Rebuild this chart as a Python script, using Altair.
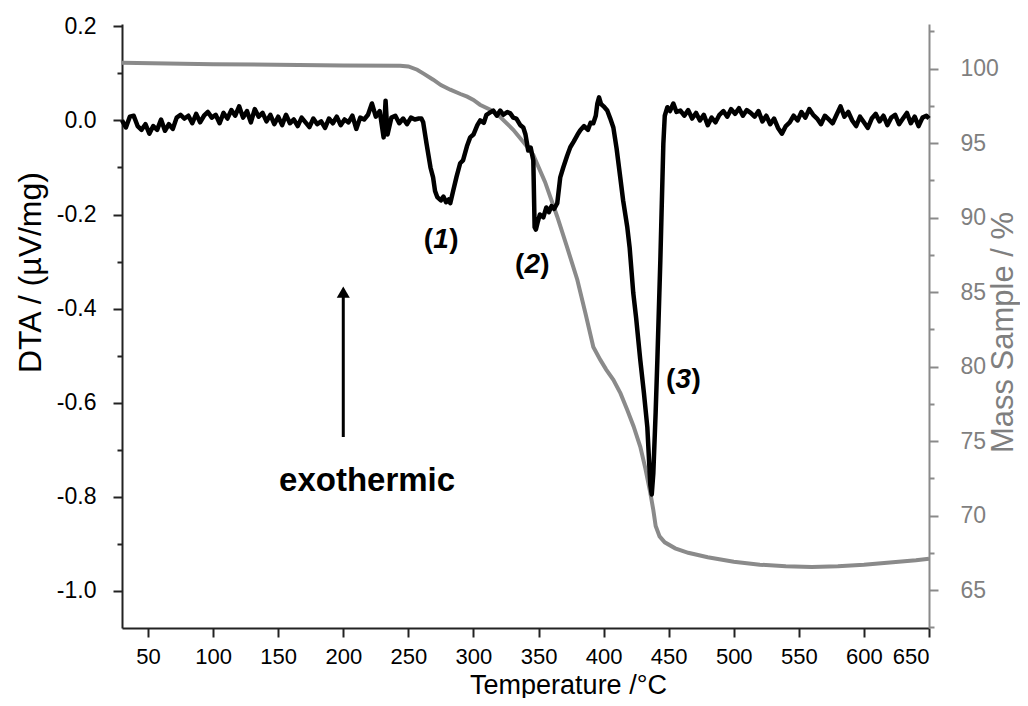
import altair as alt
import pandas as pd

# ---------------- data ----------------
dta_T = [30, 33, 36, 39, 42, 45, 48, 51, 54, 57, 60, 63, 66, 69, 72, 75, 78, 81, 84, 87,
         90, 93, 96, 99, 102, 105, 108, 111, 114, 117, 120, 123, 126, 129, 132, 135, 138,
         141, 144, 147, 150, 153, 156, 159, 162, 165, 168, 171, 174, 177, 180, 183, 186,
         189, 192, 195, 198, 201, 204, 207, 210, 213, 216, 219, 222, 225, 228, 231, 232.5,
         234, 237, 240, 243, 246, 249, 252, 255, 258,
         260, 261.4, 264, 267, 269, 270.5, 272.2, 275, 277, 279, 281, 282.2, 284.5, 287,
         289.8, 292, 295, 297.5, 300, 303, 305.2, 308, 310, 312.9, 315.2, 318, 320.6, 323,
         326, 328.3, 330.6, 333, 336, 338.3, 340, 342.1, 344, 346.0, 347.0, 348, 349.5, 351,
         353.7, 356, 358, 360, 362, 364.4, 366.7, 369, 372, 374.4, 377, 380, 382.1, 385,
         388, 390, 392.1, 394, 395.2, 396.5, 398, 400, 402.8, 405, 407.5, 410, 412.8, 415,
         418.2, 420, 422.8, 425, 428.2, 431, 433.6, 435.9, 437, 438.2, 440, 441.3, 443.6,
         445.9, 447, 449.0, 451, 453.6, 456, 459,
         462, 465, 468, 471, 474, 477, 480, 483, 486, 489, 492, 495, 498, 501, 504, 507,
         510, 513, 516, 519, 522, 525, 528, 531, 534, 537, 540, 543, 546, 549, 552, 555,
         558, 561, 564, 567, 570, 573, 576, 579, 582, 585, 588, 591, 594, 597, 600, 603,
         606, 609, 612, 615, 618, 621, 624, 627, 630, 633, 636, 639, 642, 645, 648, 650]
dta_v = [0.000, -0.015, 0.008, 0.010, -0.012, -0.020, -0.008, -0.028, -0.012, -0.020,
         0.002, -0.022, -0.008, -0.018, 0.006, 0.012, 0.004, 0.010, -0.006, 0.014,
         -0.004, 0.010, 0.018, 0.006, 0.012, -0.006, 0.016, 0.004, 0.022, 0.010,
         0.030, 0.006, 0.020, -0.004, 0.024, 0.008, 0.016, -0.002, 0.012, -0.008,
         0.008, -0.010, 0.012, -0.006, 0.002, -0.012, 0.006, -0.004, -0.014, 0.004,
         -0.008, -0.002, -0.016, 0.004, -0.006, 0.008, -0.010, 0.002, -0.004, 0.010,
         -0.018, 0.006, 0.002, 0.012, 0.036, 0.008, 0.020, -0.036, 0.042, -0.030,
         0.006, 0.010, -0.006, 0.004, -0.008, 0.006, 0.002, 0.004,
         0.004, -0.004, -0.050, -0.100, -0.121, -0.150, -0.163, -0.170, -0.162, -0.174,
         -0.168, -0.176, -0.149, -0.120, -0.091, -0.085, -0.055, -0.036, -0.030, -0.010,
         0.000, -0.005, 0.012, 0.017, 0.021, 0.010, 0.021, 0.012, 0.018, 0.015,
         0.006, 0.004, -0.010, -0.015, -0.030, -0.064, -0.058, -0.085, -0.227, -0.232,
         -0.215, -0.200, -0.206, -0.185, -0.195, -0.182, -0.188, -0.176, -0.121, -0.100,
         -0.075, -0.057, -0.045, -0.030, -0.021, -0.012, -0.020, -0.005, -0.006, 0.010,
         0.036, 0.049, 0.035, 0.030, 0.021, 0.005, -0.015, -0.060, -0.121, -0.170,
         -0.227, -0.270, -0.367, -0.420, -0.510, -0.580, -0.652, -0.775, -0.795, -0.750,
         -0.620, -0.510, -0.297, -0.050, 0.010, 0.028, 0.020, 0.036, 0.018, 0.021,
         0.010, 0.022, 0.004, 0.016, 0.000, 0.012, -0.010, 0.006, -0.004, 0.012,
         0.020, 0.008, 0.024, 0.014, 0.026, 0.010, 0.022, 0.016, 0.008, 0.020,
         -0.002, 0.010, -0.008, 0.004, -0.016, -0.028, -0.012, -0.004, 0.010, 0.000,
         0.018, 0.006, 0.024, 0.012, 0.004, -0.008, 0.010, 0.002, -0.006, 0.012,
         0.030, 0.008, 0.018, 0.000, -0.012, 0.008, -0.004, -0.016, 0.004, 0.014,
         -0.002, 0.010, -0.010, 0.006, 0.012, -0.008, 0.004, 0.016, -0.006, 0.008,
         -0.012, 0.006, 0.010, 0.004]

mass_T = [30, 100, 200, 243.7, 250, 256.8, 262, 269.1, 275, 282.2, 290, 295.2, 300, 305,
          312.9, 320, 330.6, 341.3, 346, 355, 364.4, 372, 379.8, 386, 392.1, 397.5, 402,
          407.5, 413, 418.2, 423, 428.2, 432, 435.9, 438.2, 440, 443, 447, 455, 465, 480,
          500, 520, 540, 560, 580, 600, 620, 640, 650]
mass_v = [100.4, 100.3, 100.22, 100.2, 100.15, 99.93, 99.65, 99.26, 98.9, 98.59, 98.3,
          98.12, 97.9, 97.58, 97.25, 96.8, 95.9, 94.76, 94.2, 92.4, 90.06, 88.0, 85.83,
          83.6, 81.32, 80.45, 79.8, 79.11, 78.2, 77.09, 76.0, 74.61, 73.2, 71.52, 70.37,
          69.3, 68.6, 68.2, 67.8, 67.5, 67.2, 66.9, 66.7, 66.6, 66.55, 66.6, 66.7, 66.85,
          67.0, 67.1]

peak_labels = ["1", "2", "3"]
peak_T = [275.2, 345.2, 461.3]
peak_v = [-0.255, -0.308, -0.552]

note_text = ["exothermic"]
note_T = [218.3]
note_v = [-0.766]

arrow_T = [200]
arrow_v0 = [-0.673]
arrow_v1 = [-0.365]

x_ticks = [50, 75, 100, 125, 150, 175, 200, 225, 250, 275, 300, 325, 350, 375, 400,
           425, 450, 475, 500, 525, 550, 575, 600, 625, 650]
dta_ticks = [-1.0, -0.9, -0.8, -0.7, -0.6, -0.5, -0.4, -0.3, -0.2, -0.1, 0.0, 0.1, 0.2]
mass_ticks = [62.5, 65, 67.5, 70, 72.5, 75, 77.5, 80, 82.5, 85, 87.5, 90, 92.5, 95,
              97.5, 100, 102.5]

# ---------------- styling ----------------
FONT = "Liberation Sans, Arial, sans-serif"
GRAY = "#8a8a8a"
GRAY_TXT = "#7f7f7f"
X_DOMAIN = [30, 650]
DTA_DOMAIN = [-1.079, 0.205]
MASS_DOMAIN = [62.45, 103.0]
PLOT_W, PLOT_H = 807, 604

dta_df = pd.DataFrame({"T": dta_T, "v": dta_v})
mass_df = pd.DataFrame({"T": mass_T, "m": mass_v})
peak_df = pd.DataFrame({"T": peak_T, "v": peak_v, "lab": peak_labels})
note_df = pd.DataFrame({"T": note_T, "v": note_v, "txt": note_text})
arrow_df = pd.DataFrame({"T": arrow_T, "v0": arrow_v0, "v1": arrow_v1})

x_axis = alt.Axis(
    values=x_ticks, title="Temperature /°C", grid=False,
    labelExpr="datum.value % 50 == 0 ? datum.label : ''",
    labelOverlap=False, labelFont=FONT, labelFontSize=22, labelColor="black",
    titleFont=FONT, titleFontSize=27, titleFontWeight="normal", titleColor="black",
    titleX=446, titleY=65, titleAlign="center", titleBaseline="alphabetic",
    domainColor="#222222", domainWidth=2, tickColor="#222222", tickWidth=2,
    tickSize={"condition": {"test": "datum.value % 50 == 0", "value": 9}, "value": 5},
    labelPadding=9,
)
xenc = alt.X("T:Q", scale=alt.Scale(domain=X_DOMAIN, nice=False, zero=False), axis=x_axis)

dta_axis = alt.Axis(
    values=dta_ticks, title="DTA / (µV/mg)", grid=False,
    labelExpr="abs(round(datum.value*10)) % 2 == 0 ? replace(format(datum.value, '.1f'), '−', '-') : ''",
    labelOverlap=False, labelFont=FONT, labelFontSize=23, labelColor="black",
    titleFont=FONT, titleFontSize=32, titleFontWeight="normal", titleColor="black",
    titleAngle=270, titleX=-82, titleY=248, titleAlign="center", titleBaseline="alphabetic",
    domainColor="#222222", domainWidth=2, tickColor="#222222", tickWidth=2,
    tickSize={"condition": {"test": "abs(round(datum.value*10)) % 2 == 0", "value": 9}, "value": 5},
    labelPadding=17,
)
dta_scale = alt.Scale(domain=DTA_DOMAIN, nice=False, zero=False)

dta_line = alt.Chart(dta_df).mark_line(color="black", strokeWidth=4.5, strokeJoin="round").encode(
    x=xenc, y=alt.Y("v:Q", scale=dta_scale, axis=dta_axis)
)

paren_l = alt.Chart(peak_df).mark_text(
    text="(", font=FONT, fontSize=28, fontWeight="bold", align="right", baseline="middle",
    dx=-8, color="black"
).encode(x=alt.X("T:Q"), y=alt.Y("v:Q"))
paren_r = alt.Chart(peak_df).mark_text(
    text=")", font=FONT, fontSize=28, fontWeight="bold", align="left", baseline="middle",
    dx=8, color="black"
).encode(x=alt.X("T:Q"), y=alt.Y("v:Q"))
digits = alt.Chart(peak_df).mark_text(
    font=FONT, fontSize=28, fontWeight="bold", fontStyle="italic", align="center",
    baseline="middle", color="black"
).encode(x=alt.X("T:Q"), y=alt.Y("v:Q"), text="lab:N")

note = alt.Chart(note_df).mark_text(
    font=FONT, fontSize=33, fontWeight="bold", align="center", baseline="middle",
    color="black"
).encode(x=alt.X("T:Q"), y=alt.Y("v:Q"), text="txt:N")

shaft = alt.Chart(arrow_df).mark_rule(color="black", strokeWidth=3).encode(
    x=alt.X("T:Q"), y=alt.Y("v0:Q"), y2="v1:Q"
)
head = alt.Chart(arrow_df).mark_point(
    shape="triangle-up", filled=True, color="black", size=170, opacity=1
).encode(x=alt.X("T:Q"), y=alt.Y("v1:Q"))

left_layer = alt.layer(dta_line, paren_l, paren_r, digits, note, shaft, head)

mass_axis = alt.Axis(
    values=mass_ticks, title="Mass Sample / %", grid=False, orient="right",
    labelExpr="datum.value % 5 == 0 ? datum.label : ''",
    labelOverlap=False, labelFont=FONT, labelFontSize=23, labelColor=GRAY_TXT,
    titleFont=FONT, titleFontSize=31, titleFontWeight="normal", titleColor=GRAY_TXT,
    titleAngle=270, titleX=83, titleY=308, titleAlign="center", titleBaseline="alphabetic",
    domainColor=GRAY, domainWidth=2, tickColor=GRAY, tickWidth=2,
    tickSize={"condition": {"test": "datum.value % 5 == 0", "value": 9}, "value": 5},
    labelPadding=22,
)
mass_line = alt.Chart(mass_df).mark_line(color=GRAY, strokeWidth=4).encode(
    x=xenc,
    y=alt.Y("m:Q", scale=alt.Scale(domain=MASS_DOMAIN, nice=False, zero=False), axis=mass_axis),
)

chart = alt.layer(mass_line, left_layer).resolve_scale(y="independent").properties(
    width=PLOT_W, height=PLOT_H,
    autosize=alt.AutoSizeParams(type="none"),
    padding={"left": 114, "top": 16, "right": 91, "bottom": 70},
    background="white",
).configure_view(stroke=None)

chart.save("out.html", embed_options={"renderer": "svg", "actions": False})
